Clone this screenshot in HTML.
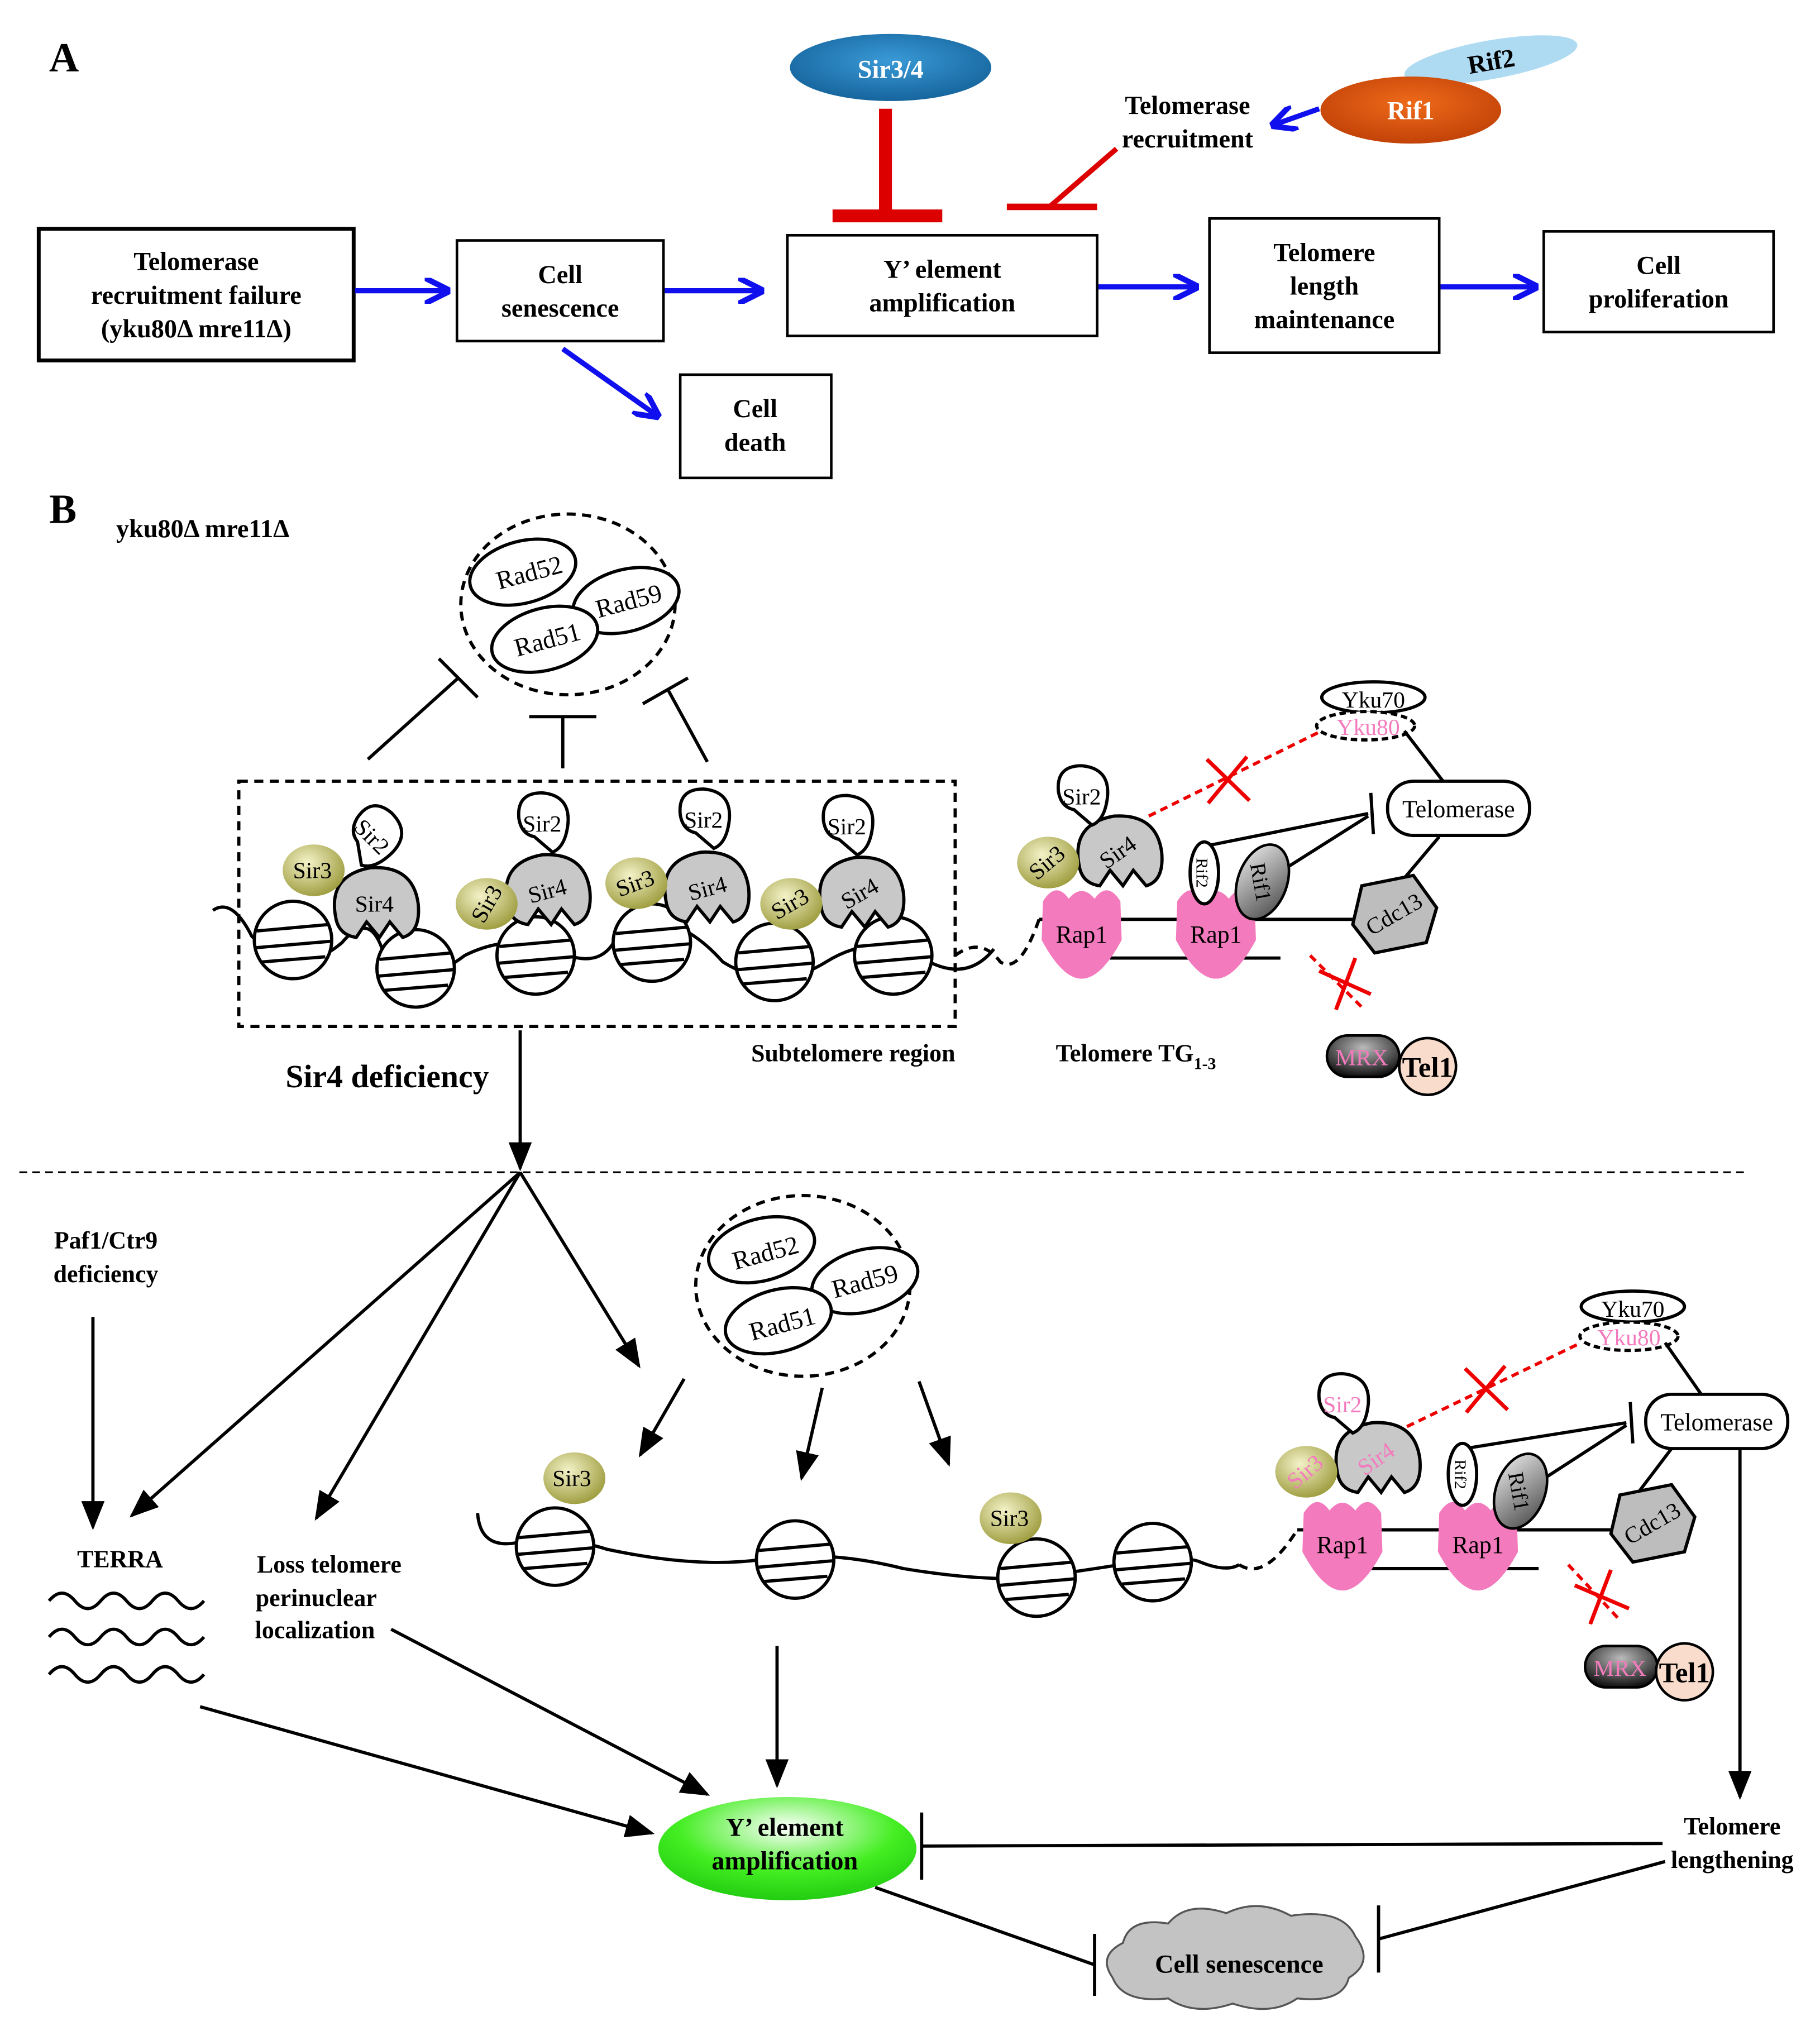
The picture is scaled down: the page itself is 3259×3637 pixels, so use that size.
<!DOCTYPE html>
<html><head><meta charset="utf-8"><style>
html,body{margin:0;padding:0;background:#fff}
svg{display:block}
text{font-family:"Liberation Serif",serif}
.b{font-weight:bold}
</style></head><body>
<svg width="3259" height="3637" viewBox="0 0 1410 1573" xmlns="http://www.w3.org/2000/svg">
<defs>
<marker id="ab" viewBox="0 0 10 10" refX="8" refY="5" markerWidth="5" markerHeight="5" orient="auto"><path d="M0,0 L10,5 L0,10" fill="none" stroke="#1010ee" stroke-width="2.2"/></marker>
<marker id="ak" viewBox="0 0 10 10" refX="9" refY="5" markerWidth="9" markerHeight="9" orient="auto"><path d="M0,1 L10,5 L0,9 Z" fill="#000"/></marker>
<radialGradient id="gs3" cx="0.4" cy="0.35" r="0.7"><stop offset="0" stop-color="#f4f2c8"/><stop offset="1" stop-color="#9b9a3a"/></radialGradient>
<radialGradient id="gg" cx="0.5" cy="0.3" r="0.7"><stop offset="0" stop-color="#ffffff"/><stop offset="0.6" stop-color="#44ee22"/><stop offset="1" stop-color="#22cc11"/></radialGradient>
<radialGradient id="gsir" cx="0.5" cy="0.4" r="0.7"><stop offset="0" stop-color="#3a9ad6"/><stop offset="1" stop-color="#105c94"/></radialGradient>
<radialGradient id="grif" cx="0.5" cy="0.4" r="0.7"><stop offset="0" stop-color="#ee6a1a"/><stop offset="1" stop-color="#bb3c05"/></radialGradient>
<radialGradient id="gmrx" cx="0.5" cy="0.3" r="0.7"><stop offset="0" stop-color="#bbb"/><stop offset="1" stop-color="#111"/></radialGradient>
<linearGradient id="grf1" x1="0" y1="0" x2="1" y2="1"><stop offset="0" stop-color="#eee"/><stop offset="1" stop-color="#444"/></linearGradient>
<g id="nuc"><circle r="30" fill="#fff" stroke="#000" stroke-width="2.5"/><line x1="-28" y1="-7" x2="28" y2="-12" stroke="#000" stroke-width="2.5"/><line x1="-29" y1="6" x2="29" y2="1" stroke="#000" stroke-width="2.5"/><line x1="-24" y1="17" x2="25" y2="13" stroke="#000" stroke-width="2.5"/></g>
<path id="sir4" d="M-32,10 Q-38,-22 -5,-28 Q28,-30 32,0 Q34,22 20,26 L10,14 L2,26 L-8,14 L-16,26 Q-30,24 -32,10Z" fill="#c8c8c8" stroke="#000" stroke-width="2.5"/>
<path id="sir2" d="M-18,-4 Q-20,-24 0,-24 Q22,-22 20,0 Q18,18 8,22 L-6,10 Q-16,8 -18,-4Z" fill="#fff" stroke="#000" stroke-width="2.5"/>
<path id="rap1" d="M-30,-20 Q-20,-36 -10,-22 Q0,-34 10,-22 Q20,-36 30,-20 L31,10 Q15,40 0,40 Q-15,40 -31,10 Z" fill="#f37bbd"/>
<path id="cdc" d="M-25,-22 L15,-30 L33,-5 L25,22 L-15,30 L-32,8 Z" fill="#bdbdbd" stroke="#000" stroke-width="2.5"/>
</defs>

<!-- PART A -->
<text x="38" y="55" font-size="32" class="b">A</text>
<ellipse cx="690" cy="52" rx="78" ry="26" fill="url(#gsir)"/>
<text x="690" y="60" font-size="20" class="b" fill="#fff" text-anchor="middle">Sir3/4</text>
<line x1="686" y1="84" x2="686" y2="165" stroke="#dd0000" stroke-width="10"/>
<line x1="645" y1="167" x2="730" y2="167" stroke="#dd0000" stroke-width="10"/>
<line x1="865" y1="115" x2="813" y2="160" stroke="#dd0000" stroke-width="4"/>
<line x1="780" y1="160" x2="850" y2="160" stroke="#dd0000" stroke-width="5"/>
<ellipse cx="1155" cy="46" rx="68" ry="15" transform="rotate(-10 1155 46)" fill="#aedaf2"/>
<ellipse cx="1093" cy="85" rx="70" ry="26" fill="url(#grif)"/>
<text x="1155" y="54" font-size="20" class="b" text-anchor="middle" transform="rotate(-10 1155 46)">Rif2</text>
<text x="1093" y="92" font-size="20" class="b" fill="#fff" text-anchor="middle">Rif1</text>
<text x="920" y="88" font-size="20" class="b" text-anchor="middle">Telomerase</text>
<text x="920" y="114" font-size="20" class="b" text-anchor="middle">recruitment</text>
<line x1="1022" y1="84" x2="988" y2="96" stroke="#1010ee" stroke-width="4" marker-end="url(#ab)"/>

<g fill="#fff" stroke="#000">
<rect x="30" y="177" width="244" height="102" stroke-width="3"/>
<rect x="354" y="186" width="160" height="78" stroke-width="2"/>
<rect x="610" y="182" width="240" height="78" stroke-width="2"/>
<rect x="937" y="169" width="178" height="104" stroke-width="2"/>
<rect x="1196" y="179" width="178" height="78" stroke-width="2"/>
<rect x="527" y="290" width="117" height="80" stroke-width="2"/>
</g>
<g font-size="20" class="b" text-anchor="middle">
<text x="152" y="209">Telomerase</text><text x="152" y="235">recruitment failure</text><text x="152" y="261">(yku80Δ mre11Δ)</text>
<text x="434" y="219">Cell</text><text x="434" y="245">senescence</text>
<text x="730" y="215">Y’ element</text><text x="730" y="241">amplification</text>
<text x="1026" y="202">Telomere</text><text x="1026" y="228">length</text><text x="1026" y="254">maintenance</text>
<text x="1285" y="212">Cell</text><text x="1285" y="238">proliferation</text>
<text x="585" y="323">Cell</text><text x="585" y="349">death</text>
</g>
<g stroke="#1010ee" stroke-width="4" marker-end="url(#ab)">
<line x1="275" y1="225" x2="345" y2="225"/>
<line x1="515" y1="225" x2="588" y2="225"/>
<line x1="851" y1="222" x2="925" y2="222"/>
<line x1="1116" y1="222" x2="1188" y2="222"/>
<line x1="436" y1="270" x2="508" y2="321"/>
</g>

<!-- PART B -->
<text x="38" y="405" font-size="32" class="b">B</text>
<text x="90" y="416" font-size="20" class="b">yku80Δ mre11Δ</text>

<!-- upper Rad cluster -->
<ellipse cx="440" cy="468" rx="83" ry="70" fill="none" stroke="#000" stroke-width="2.5" stroke-dasharray="7,5"/>
<g fill="#fff" stroke="#000" stroke-width="2.5">
<ellipse cx="405" cy="443" rx="42" ry="24" transform="rotate(-15 405 443)"/>
<ellipse cx="485" cy="465" rx="42" ry="24" transform="rotate(-15 485 465)"/>
<ellipse cx="422" cy="495" rx="42" ry="24" transform="rotate(-15 422 495)"/>
</g>
<g font-size="20" text-anchor="middle">
<text x="410" y="450" transform="rotate(-15 410 443)">Rad52</text>
<text x="487" y="472" transform="rotate(-15 487 465)">Rad59</text>
<text x="424" y="502" transform="rotate(-15 424 495)">Rad51</text>
</g>
<g stroke="#000" stroke-width="2.5">
<line x1="285" y1="588" x2="355" y2="525"/><line x1="340" y1="510" x2="370" y2="540"/>
<line x1="436" y1="595" x2="436" y2="555"/><line x1="410" y1="555" x2="462" y2="555"/>
<line x1="548" y1="590" x2="518" y2="535"/><line x1="498" y1="545" x2="533" y2="525"/>
</g>
<rect x="185" y="605" width="555" height="190" fill="none" stroke="#000" stroke-width="2.5" stroke-dasharray="7,5"/>
<path d="M165,705 Q180,695 195,725 Q230,760 265,730 Q290,700 300,750 Q320,770 360,740 Q400,720 440,740 Q470,750 480,720 Q520,700 560,745 Q600,770 640,745 Q680,720 720,745 Q750,760 770,735" fill="none" stroke="#000" stroke-width="2.5"/>
<use href="#nuc" x="227" y="728"/><use href="#nuc" x="322" y="750"/><use href="#nuc" x="415" y="740"/>
<use href="#nuc" x="505" y="730"/><use href="#nuc" x="600" y="745"/><use href="#nuc" x="692" y="740"/>
<!-- sir complexes upper -->
<g font-size="18" text-anchor="middle">
<use href="#sir4" x="292" y="700"/><text x="290" y="706">Sir4</text>
<use href="#sir2" x="288" y="648" transform="rotate(40 288 648)"/><text x="288" y="654" transform="rotate(45 288 648)">Sir2</text>
<ellipse cx="243" cy="674" rx="24" ry="20" fill="url(#gs3)"/><text x="242" y="680">Sir3</text>
<use href="#sir4" x="425" y="690"/><text x="424" y="696" transform="rotate(-15 424 690)">Sir4</text>
<use href="#sir2" x="420" y="638"/><text x="420" y="644">Sir2</text>
<ellipse cx="377" cy="700" rx="24" ry="20" fill="url(#gs3)"/><text x="377" y="706" transform="rotate(-60 377 700)">Sir3</text>
<use href="#sir4" x="548" y="688"/><text x="548" y="694" transform="rotate(-15 548 688)">Sir4</text>
<use href="#sir2" x="545" y="635"/><text x="545" y="641">Sir2</text>
<ellipse cx="493" cy="684" rx="24" ry="20" fill="url(#gs3)"/><text x="492" y="690" transform="rotate(-20 492 684)">Sir3</text>
<use href="#sir4" x="668" y="692"/><text x="666" y="698" transform="rotate(-30 666 692)">Sir4</text>
<use href="#sir2" x="656" y="640"/><text x="656" y="646">Sir2</text>
<ellipse cx="613" cy="700" rx="24" ry="20" fill="url(#gs3)"/><text x="612" y="706" transform="rotate(-30 612 700)">Sir3</text>
</g>
<!-- upper telomere -->
<path d="M740,740 Q760,725 775,745 Q790,755 805,712" fill="none" stroke="#000" stroke-width="2.5" stroke-dasharray="7,5"/>
<line x1="805" y1="712" x2="1060" y2="712" stroke="#000" stroke-width="2.5"/>
<line x1="860" y1="742" x2="992" y2="742" stroke="#000" stroke-width="2.5"/>
<use href="#rap1" x="838" y="718"/><use href="#rap1" x="942" y="718"/>
<g font-size="19" text-anchor="middle"><text x="838" y="730">Rap1</text><text x="942" y="730">Rap1</text></g>
<use href="#sir4" x="868" y="660"/><text x="866" y="666" font-size="18" text-anchor="middle" transform="rotate(-35 866 660)">Sir4</text>
<use href="#sir2" x="838" y="617"/><text x="838" y="623" font-size="18" text-anchor="middle">Sir2</text>
<ellipse cx="812" cy="668" rx="24" ry="20" fill="url(#gs3)"/><text x="811" y="674" font-size="18" text-anchor="middle" transform="rotate(-40 811 668)">Sir3</text>
<line x1="890" y1="632" x2="1030" y2="563" stroke="#e00" stroke-width="2.5" stroke-dasharray="6,4"/>
<g stroke="#e00" stroke-width="3"><line x1="935" y1="588" x2="968" y2="620"/><line x1="936" y1="622" x2="966" y2="586"/></g>
<ellipse cx="1064" cy="540" rx="40" ry="12" fill="#fff" stroke="#000" stroke-width="2.5"/>
<text x="1064" y="548" font-size="18" text-anchor="middle">Yku70</text>
<ellipse cx="1058" cy="562" rx="38" ry="11" fill="#fff" stroke="#000" stroke-width="2.5" stroke-dasharray="5,3"/>
<text x="1060" y="569" font-size="18" text-anchor="middle" fill="#f37bbd">Yku80</text>
<line x1="1088" y1="566" x2="1118" y2="605" stroke="#000" stroke-width="2.5"/>
<rect x="1075" y="605" width="110" height="42" rx="20" fill="#fff" stroke="#000" stroke-width="2.5"/>
<text x="1130" y="633" font-size="19" text-anchor="middle">Telomerase</text>
<line x1="1115" y1="648" x2="1088" y2="680" stroke="#000" stroke-width="2.5"/>
<use href="#cdc" x="1080" y="708"/><text x="1080" y="714" font-size="18" text-anchor="middle" transform="rotate(-30 1080 708)">Cdc13</text>
<g stroke="#000" stroke-width="2.5"><line x1="935" y1="655" x2="1060" y2="630"/><line x1="992" y1="675" x2="1060" y2="632"/><line x1="1062" y1="614" x2="1064" y2="646"/></g>
<ellipse cx="933" cy="676" rx="11" ry="24" fill="#fff" stroke="#000" stroke-width="2.5"/>
<text x="933" y="682" font-size="13" text-anchor="middle" transform="rotate(90 933 676)">Rif2</text>
<ellipse cx="978" cy="683" rx="19" ry="30" transform="rotate(20 978 683)" fill="url(#grf1)" stroke="#000" stroke-width="2"/>
<text x="978" y="690" font-size="17" text-anchor="middle" transform="rotate(80 978 683)">Rif1</text>
<line x1="1015" y1="740" x2="1055" y2="780" stroke="#e00" stroke-width="2.5" stroke-dasharray="6,4"/>
<g stroke="#e00" stroke-width="3"><line x1="1022" y1="752" x2="1062" y2="770"/><line x1="1050" y1="742" x2="1035" y2="782"/></g>
<rect x="1028" y="802" width="56" height="32" rx="16" fill="url(#gmrx)" stroke="#000" stroke-width="2"/>
<text x="1055" y="825" font-size="18" text-anchor="middle" fill="#f37bbd">MRX</text>
<circle cx="1106" cy="826" r="22" fill="#f9dccb" stroke="#000" stroke-width="2"/>
<text x="1106" y="834" font-size="22" class="b" text-anchor="middle">Tel1</text>
<text x="661" y="822" font-size="19" class="b" text-anchor="middle">Subtelomere region</text>
<text x="818" y="822" font-size="19" class="b">Telomere TG<tspan font-size="13" dy="6">1-3</tspan></text>
<text x="300" y="842" font-size="25" class="b" text-anchor="middle">Sir4 deficiency</text>

<line x1="403" y1="798" x2="403" y2="905" stroke="#000" stroke-width="2.5" marker-end="url(#ak)"/>
<line x1="15" y1="908" x2="1355" y2="908" stroke="#000" stroke-width="1.5" stroke-dasharray="6,4"/>
<g stroke="#000" stroke-width="2.5" marker-end="url(#ak)">
<line x1="403" y1="908" x2="102" y2="1174"/>
<line x1="403" y1="908" x2="245" y2="1176"/>
<line x1="403" y1="908" x2="495" y2="1058"/>
<line x1="72" y1="1020" x2="72" y2="1183"/>
<line x1="530" y1="1068" x2="496" y2="1127"/>
<line x1="637" y1="1075" x2="621" y2="1145"/>
<line x1="712" y1="1070" x2="735" y2="1134"/>
<line x1="602" y1="1275" x2="602" y2="1383"/>
<line x1="155" y1="1322" x2="505" y2="1420"/>
<line x1="303" y1="1262" x2="548" y2="1390"/>
<line x1="1348" y1="1118" x2="1348" y2="1392"/>
</g>
<g font-size="19" class="b" text-anchor="middle">
<text x="82" y="967">Paf1/Ctr9</text><text x="82" y="993">deficiency</text>
<text x="93" y="1214">TERRA</text>
<text x="255" y="1218">Loss telomere</text><text x="245" y="1244">perinuclear</text><text x="244" y="1269">localization</text>
<text x="1342" y="1421">Telomere</text><text x="1342" y="1447">lengthening</text>
</g>
<g fill="none" stroke="#000" stroke-width="2.5">
<path d="M38,1240 q10,-12 20,0 t20,0 t20,0 t20,0 t20,0 t20,0"/>
<path d="M38,1268 q10,-12 20,0 t20,0 t20,0 t20,0 t20,0 t20,0"/>
<path d="M38,1297 q10,-12 20,0 t20,0 t20,0 t20,0 t20,0 t20,0"/>
</g>

<!-- lower Rad cluster -->
<ellipse cx="622" cy="996" rx="83" ry="70" fill="none" stroke="#000" stroke-width="2.5" stroke-dasharray="7,5"/>
<g fill="#fff" stroke="#000" stroke-width="2.5">
<ellipse cx="590" cy="968" rx="42" ry="24" transform="rotate(-15 590 968)"/>
<ellipse cx="670" cy="992" rx="42" ry="24" transform="rotate(-15 670 992)"/>
<ellipse cx="603" cy="1023" rx="42" ry="24" transform="rotate(-15 603 1023)"/>
</g>
<g font-size="20" text-anchor="middle">
<text x="593" y="977" transform="rotate(-15 593 970)">Rad52</text>
<text x="670" y="999" transform="rotate(-15 670 992)">Rad59</text>
<text x="606" y="1032" transform="rotate(-15 606 1025)">Rad51</text>
</g>
<path d="M370,1172 Q372,1200 400,1195 Q440,1190 470,1200 Q540,1215 590,1208 Q640,1200 700,1215 Q760,1225 800,1222 Q850,1215 880,1210 Q920,1205 930,1210 Q950,1218 960,1212" fill="none" stroke="#000" stroke-width="2.5"/>
<use href="#nuc" x="430" y="1198"/><use href="#nuc" x="616" y="1208"/><use href="#nuc" x="803" y="1222"/><use href="#nuc" x="893" y="1210"/>
<ellipse cx="445" cy="1145" rx="24" ry="20" fill="url(#gs3)"/><text x="443" y="1151" font-size="18" text-anchor="middle">Sir3</text>
<ellipse cx="783" cy="1176" rx="24" ry="20" fill="url(#gs3)"/><text x="782" y="1182" font-size="18" text-anchor="middle">Sir3</text>
<path d="M960,1212 Q980,1225 1005,1185" fill="none" stroke="#000" stroke-width="2.5" stroke-dasharray="7,5"/>
<line x1="1005" y1="1185" x2="1260" y2="1185" stroke="#000" stroke-width="2.5"/>
<line x1="1060" y1="1215" x2="1192" y2="1215" stroke="#000" stroke-width="2.5"/>
<use href="#rap1" x="1040" y="1192"/><use href="#rap1" x="1145" y="1192"/>
<g font-size="19" text-anchor="middle"><text x="1040" y="1203">Rap1</text><text x="1145" y="1203">Rap1</text></g>
<use href="#sir4" x="1068" y="1130"/><text x="1066" y="1136" font-size="18" text-anchor="middle" fill="#f37bbd" transform="rotate(-35 1066 1130)">Sir4</text>
<use href="#sir2" x="1040" y="1088"/><text x="1040" y="1094" font-size="18" text-anchor="middle" fill="#f37bbd">Sir2</text>
<ellipse cx="1012" cy="1140" rx="24" ry="20" fill="url(#gs3)"/><text x="1011" y="1146" font-size="18" text-anchor="middle" fill="#f37bbd" transform="rotate(-40 1011 1140)">Sir3</text>
<line x1="1090" y1="1105" x2="1225" y2="1040" stroke="#e00" stroke-width="2.5" stroke-dasharray="6,4"/>
<g stroke="#e00" stroke-width="3"><line x1="1135" y1="1060" x2="1168" y2="1092"/><line x1="1136" y1="1094" x2="1166" y2="1058"/></g>
<ellipse cx="1265" cy="1012" rx="40" ry="12" fill="#fff" stroke="#000" stroke-width="2.5"/>
<text x="1265" y="1020" font-size="18" text-anchor="middle">Yku70</text>
<ellipse cx="1262" cy="1035" rx="38" ry="11" fill="#fff" stroke="#000" stroke-width="2.5" stroke-dasharray="5,3"/>
<text x="1262" y="1042" font-size="18" text-anchor="middle" fill="#f37bbd">Yku80</text>
<line x1="1290" y1="1040" x2="1318" y2="1080" stroke="#000" stroke-width="2.5"/>
<rect x="1275" y="1080" width="110" height="42" rx="20" fill="#fff" stroke="#000" stroke-width="2.5"/>
<text x="1330" y="1108" font-size="19" text-anchor="middle">Telomerase</text>
<line x1="1295" y1="1122" x2="1270" y2="1155" stroke="#000" stroke-width="2.5"/>
<use href="#cdc" x="1280" y="1180"/><text x="1280" y="1186" font-size="18" text-anchor="middle" transform="rotate(-30 1280 1180)">Cdc13</text>
<g stroke="#000" stroke-width="2.5"><line x1="1135" y1="1122" x2="1260" y2="1102"/><line x1="1192" y1="1148" x2="1260" y2="1104"/><line x1="1263" y1="1086" x2="1265" y2="1118"/></g>
<ellipse cx="1133" cy="1142" rx="11" ry="24" fill="#fff" stroke="#000" stroke-width="2.5"/>
<text x="1133" y="1148" font-size="13" text-anchor="middle" transform="rotate(90 1133 1142)">Rif2</text>
<ellipse cx="1178" cy="1155" rx="19" ry="30" transform="rotate(20 1178 1155)" fill="url(#grf1)" stroke="#000" stroke-width="2"/>
<text x="1178" y="1162" font-size="17" text-anchor="middle" transform="rotate(80 1178 1155)">Rif1</text>
<line x1="1215" y1="1212" x2="1255" y2="1255" stroke="#e00" stroke-width="2.5" stroke-dasharray="6,4"/>
<g stroke="#e00" stroke-width="3"><line x1="1220" y1="1228" x2="1262" y2="1246"/><line x1="1248" y1="1216" x2="1232" y2="1258"/></g>
<rect x="1228" y="1275" width="56" height="32" rx="16" fill="url(#gmrx)" stroke="#000" stroke-width="2"/>
<text x="1255" y="1298" font-size="18" text-anchor="middle" fill="#f37bbd">MRX</text>
<circle cx="1305" cy="1295" r="22" fill="#f9dccb" stroke="#000" stroke-width="2"/>
<text x="1305" y="1303" font-size="22" class="b" text-anchor="middle">Tel1</text>

<!-- green Y' -->
<ellipse cx="610" cy="1432" rx="100" ry="40" fill="url(#gg)"/>
<text x="608" y="1422" font-size="20" class="b" text-anchor="middle">Y’ element</text>
<text x="608" y="1448" font-size="20" class="b" text-anchor="middle">amplification</text>
<g stroke="#000" stroke-width="2.5">
<line x1="1288" y1="1428" x2="714" y2="1430"/><line x1="714" y1="1404" x2="714" y2="1456"/>
<line x1="678" y1="1462" x2="848" y2="1522"/><line x1="848" y1="1498" x2="848" y2="1546"/>
<line x1="1290" y1="1442" x2="1068" y2="1502"/><line x1="1068" y1="1476" x2="1068" y2="1528"/>
</g>
<path d="M870,1505 Q875,1485 905,1490 Q920,1472 950,1482 Q975,1470 1000,1484 Q1040,1478 1050,1500 Q1065,1520 1045,1532 Q1040,1552 1005,1548 Q985,1562 955,1552 Q925,1562 905,1548 Q870,1552 862,1532 Q850,1515 870,1505Z" fill="#c3c3c3" stroke="#555" stroke-width="1.5"/>
<text x="960" y="1528" font-size="20" class="b" text-anchor="middle">Cell senescence</text>
</svg>
</body></html>
